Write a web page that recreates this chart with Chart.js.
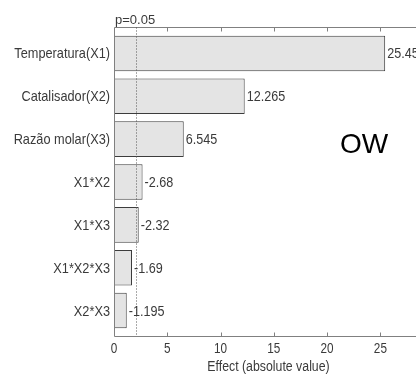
<!DOCTYPE html>
<html>
<head>
<meta charset="utf-8">
<script src="https://cdn.jsdelivr.net/npm/chart.js@4"></script>
<style>
  html, body { margin: 0; padding: 0; background: #fff; overflow: hidden; }
  #wrap { width: 416px; height: 376px; overflow: hidden; position: relative; }
  #wrap canvas { position: absolute; left: 0; top: 0; }
</style>
</head>
<body>
<div id="wrap"><canvas id="chart" width="440" height="376"></canvas></div>
<script>
// Pareto chart of standardized effects
const factors = ['Temperatura(X1)', 'Catalisador(X2)', 'Razão molar(X3)', 'X1*X2', 'X1*X3', 'X1*X2*X3', 'X2*X3'];
const effects = [25.45, 12.265, 6.545, -2.68, -2.32, -1.69, -1.195];
const xTicks = [0, 5, 10, 15, 20, 25];
const pCritical = 2.04;
const pLabel = 'p=0.05';
const panelLabel = 'OW';
const xTitle = 'Effect (absolute value)';

const SANS = "'Liberation Sans', Arial, sans-serif";
const TEXT = '#3a3a3a';
const AXIS = '#808080';

// narrow lettering: regular face squeezed horizontally
function squeezed(ctx, text, x, y, size, align, sx) {
  ctx.save();
  ctx.translate(x, y);
  ctx.scale(sx, 1);
  ctx.font = size + 'px ' + SANS;
  ctx.textAlign = align;
  ctx.textBaseline = 'alphabetic';
  ctx.fillText(text, 0, 0);
  ctx.restore();
}

const frame = {
  id: 'frame',
  afterDatasetsDraw(chart) {
    const { ctx, chartArea: a, scales: { x, y } } = chart;
    const top = a.top - 4.5, bottom = a.bottom + 4.5, left = a.left + 0.5;
    ctx.save();
    ctx.strokeStyle = AXIS;
    ctx.lineWidth = 1;
    ctx.beginPath();
    ctx.moveTo(left, top); ctx.lineTo(chart.width, top);
    ctx.moveTo(left, top); ctx.lineTo(left, bottom);
    ctx.moveTo(left, bottom); ctx.lineTo(chart.width, bottom);
    xTicks.forEach(v => {
      if (v === 0) return;
      const px = Math.round(x.getPixelForValue(v)) + 0.5;
      ctx.moveTo(px, bottom); ctx.lineTo(px, bottom - 4);
      ctx.moveTo(px, top); ctx.lineTo(px, top + 4);
    });
    ctx.stroke();

    // significance threshold
    const pc = Math.round(x.getPixelForValue(pCritical)) + 0.5;
    ctx.strokeStyle = '#555';
    ctx.setLineDash([1, 2]);
    ctx.beginPath();
    ctx.moveTo(pc, top); ctx.lineTo(pc, bottom);
    ctx.stroke();
    ctx.setLineDash([]);

    ctx.fillStyle = TEXT;
    ctx.font = '13px ' + SANS;
    ctx.textAlign = 'left';
    ctx.textBaseline = 'alphabetic';
    ctx.fillText(pLabel, a.left + 1, top - 3.5);

    // category names and effect values
    const meta = chart.getDatasetMeta(0);
    meta.data.forEach((bar, i) => {
      squeezed(ctx, y.getLabelForValue(i), a.left - 4, y.getPixelForValue(i) + 5, 15, 'right', 0.85);
      squeezed(ctx, String(effects[i]), bar.x + 2, bar.y + 5, 15, 'left', 0.84);
    });

    // axis numbers and title
    xTicks.forEach(v => {
      squeezed(ctx, String(v), x.getPixelForValue(v), bottom + 16, 14, 'center', 0.84);
    });
    squeezed(ctx, xTitle, (a.left + a.right) / 2, bottom + 34.5, 14, 'center', 0.88);

    ctx.fillStyle = '#000';
    ctx.font = '28px ' + SANS;
    ctx.fillText(panelLabel, 340, 153);
    ctx.restore();
  }
};

new Chart(document.getElementById('chart'), {
  type: 'bar',
  data: {
    labels: factors,
    datasets: [{
      data: effects.map(Math.abs),
      backgroundColor: '#e4e4e4',
      borderColor: '#3c3c3c',
      borderWidth: 1,
      barPercentage: 0.83,
      categoryPercentage: 1
    }]
  },
  options: {
    indexAxis: 'y',
    responsive: false,
    animation: false,
    layout: { padding: { top: 32, right: 17, left: 0, bottom: 0 } },
    plugins: { legend: { display: false }, tooltip: { enabled: false } },
    scales: {
      x: {
        type: 'linear',
        min: 0,
        max: 29,
        grid: { display: false },
        border: { display: false },
        afterBuildTicks(scale) { scale.ticks = xTicks.map(v => ({ value: v })); },
        afterFit(scale) { scale.paddingLeft = 0; scale.paddingRight = 0; scale.height = 44; },
        ticks: { display: false }
      },
      y: {
        grid: { display: false },
        border: { display: false },
        afterFit(scale) { scale.width = 114; },
        ticks: { display: false }
      }
    }
  },
  plugins: [frame]
});
</script>
</body>
</html>
